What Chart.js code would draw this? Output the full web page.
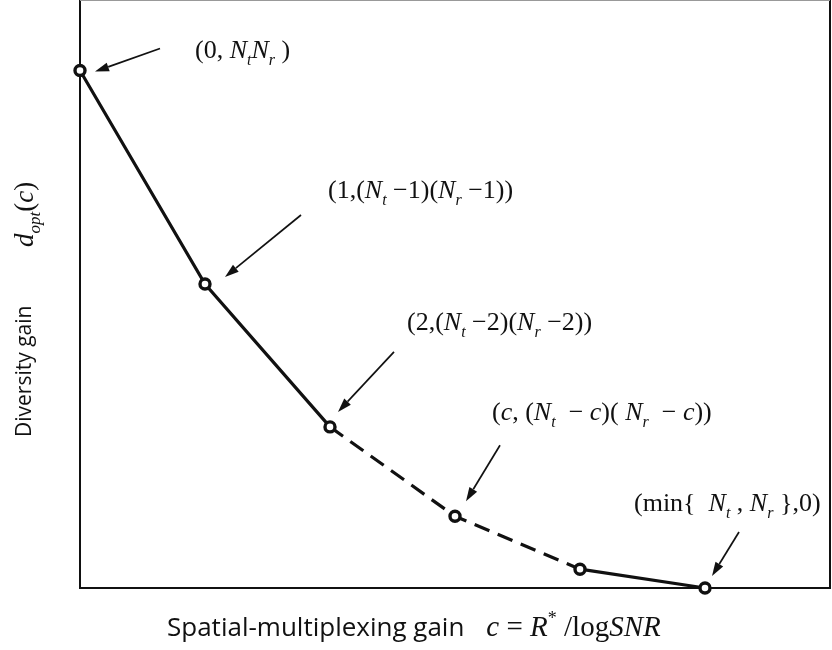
<!DOCTYPE html>
<html>
<head>
<meta charset="utf-8">
<script src="https://cdn.jsdelivr.net/npm/chart.js@4.4.1/dist/chart.umd.min.js"></script>
<style>
  html, body { margin: 0; padding: 0; background: #fff; }
  #wrap { width: 832px; height: 650px; }
</style>
</head>
<body>
<div id="wrap"><canvas id="c" width="832" height="650"></canvas></div>
<script>
// Spatial-multiplexing gain c at the integer corner points of the tradeoff curve
const multiplexingGain = [0, 1, 2, 3, 4, 5];
// Optimal diversity gain d_opt(c) at each corner point (schematic units)
const diversityGain = [8.8, 5.17, 2.74, 1.22, 0.32, 0];
// Stroke style of each segment joining consecutive points
const segmentStyle = ['solid', 'solid', 'dashed', 'dashed', 'solid'];
// Axis extents
const xRange = [0, 6];
const yRange = [0, 10];
// Point annotations: $..$ italic, _x / _{xy} subscript, ^x superscript
const pointNotes = [
  '(0, $N$_t$N$_r )',
  '(1,($N$_t −1)($N$_r −1))',
  '(2,($N$_t −2)($N$_r −2))',
  '($c$, ($N$_t  − $c$)( $N$_r  − $c$))',
  null,
  '(min{  $N$_t , $N$_r },0)'
];
const xTitle = ['Spatial-multiplexing gain', '$c$ = $R$^* /log$SNR$'];
const yTitle = ['Diversity gain', '$d$_{opt}($c$)'];

const SERIF = '"Liberation Serif", "DejaVu Serif", serif';
const SANS = '"Open Sans", "Liberation Sans", sans-serif';

// Split a lightly marked-up math string into typed runs
function parseRich(str) {
  const runs = [];
  let italic = false, buf = '';
  const flush = () => { if (buf) { runs.push({ t: buf, k: italic ? 'i' : 'r' }); buf = ''; } };
  for (let i = 0; i < str.length; i++) {
    const ch = str[i];
    if (ch === '$') { flush(); italic = !italic; }
    else if (ch === '_' || ch === '^') {
      flush();
      let t;
      if (str[i + 1] === '{') { const j = str.indexOf('}', i + 2); t = str.slice(i + 2, j); i = j; }
      else { t = str[i + 1]; i++; }
      runs.push({ t, k: ch === '_' ? 'sub' : 'sup' });
    } else buf += ch;
  }
  flush();
  return runs;
}

// Draw typed runs left to right from (x, baseline y); returns the advance
function drawRich(ctx, runs, x, y, size) {
  let cx = x;
  for (const r of runs) {
    let dy = 0;
    if (r.k === 'i') ctx.font = `italic ${size}px ${SERIF}`;
    else if (r.k === 'sub') { ctx.font = `italic ${Math.round(size * 0.62)}px ${SERIF}`; dy = size * 0.27; }
    else if (r.k === 'sup') { ctx.font = `${Math.round(size * 0.62)}px ${SERIF}`; dy = -size * 0.42; }
    else ctx.font = `${size}px ${SERIF}`;
    ctx.fillText(r.t, cx, y + dy);
    cx += ctx.measureText(r.t).width;
  }
  return cx - x;
}

function drawArrow(ctx, x0, y0, x1, y1) {
  const ang = Math.atan2(y1 - y0, x1 - x0);
  const len = 14, half = 4.5;
  const bx = x1 - len * Math.cos(ang), by = y1 - len * Math.sin(ang);
  ctx.beginPath();
  ctx.moveTo(x0, y0);
  ctx.lineTo(bx, by);
  ctx.lineWidth = 1.7;
  ctx.stroke();
  ctx.beginPath();
  ctx.moveTo(x1, y1);
  ctx.lineTo(bx + half * Math.sin(ang), by - half * Math.cos(ang));
  ctx.lineTo(bx - half * Math.sin(ang), by + half * Math.cos(ang));
  ctx.closePath();
  ctx.fill();
}

// Box around the plotting area
const framePlugin = {
  id: 'frame',
  beforeDatasetsDraw(chart) {
    const { ctx, chartArea: a } = chart;
    ctx.save();
    ctx.strokeStyle = '#111';
    ctx.lineWidth = 2;
    ctx.beginPath();
    ctx.moveTo(a.left, a.top);
    ctx.lineTo(a.left, a.bottom);
    ctx.lineTo(a.right, a.bottom);
    ctx.lineTo(a.right, a.top);
    ctx.stroke();
    ctx.strokeStyle = '#999';
    ctx.lineWidth = 1;
    ctx.beginPath();
    ctx.moveTo(a.left, a.top + 0.5);
    ctx.lineTo(a.right, a.top + 0.5);
    ctx.stroke();
    ctx.restore();
  }
};

// Labels and pointer arrows attached to the corner points
const noteLayout = [
  { tx: 115, ty: -13, a: [80, -22, 15, 1] },
  { tx: 123, ty: -86, a: [96, -69, 20, -7] },
  { tx: 77, ty: -97, a: [64, -75, 8, -15] },
  { tx: 37, ty: -96, a: [45, -71, 11, -15] },
  null,
  { tx: -71, ty: -77, a: [34, -56, 7, -12] }
];
const notesPlugin = {
  id: 'notes',
  afterDatasetsDraw(chart) {
    const { ctx } = chart;
    const pts = chart.getDatasetMeta(0).data;
    ctx.save();
    ctx.fillStyle = '#111';
    ctx.strokeStyle = '#111';
    ctx.textBaseline = 'alphabetic';
    ctx.textAlign = 'left';
    pointNotes.forEach((note, i) => {
      const lay = noteLayout[i];
      if (!note || !lay) return;
      const p = pts[i];
      drawRich(ctx, parseRich(note), p.x + lay.tx, p.y + lay.ty, 26);
      drawArrow(ctx, p.x + lay.a[0], p.y + lay.a[1], p.x + lay.a[2], p.y + lay.a[3]);
    });
    ctx.restore();
  }
};

// Axis titles mixing plain text and math
const titlesPlugin = {
  id: 'titles',
  afterDraw(chart) {
    const { ctx, chartArea: a } = chart;
    ctx.save();
    ctx.fillStyle = '#111';
    ctx.textBaseline = 'alphabetic';
    ctx.textAlign = 'left';
    // horizontal title
    const xb = a.bottom + 48;
    ctx.font = `26px ${SANS}`;
    const x0 = a.left + 87;
    ctx.fillText(xTitle[0], x0, xb);
    const w0 = ctx.measureText(xTitle[0]).width;
    drawRich(ctx, parseRich(xTitle[1]), x0 + w0 + 22, xb, 29);
    // vertical title, read bottom to top
    ctx.translate(31, 437);
    ctx.rotate(-Math.PI / 2);
    ctx.font = `21px ${SANS}`;
    ctx.fillText(yTitle[0], 0, 0);
    drawRich(ctx, parseRich(yTitle[1]), 190, 2, 27);
    ctx.restore();
  }
};

const points = multiplexingGain.map((c, i) => ({ x: c, y: diversityGain[i] }));

new Chart(document.getElementById('c'), {
  type: 'line',
  data: {
    datasets: [{
      data: points,
      borderColor: '#111',
      borderWidth: 3.2,
      borderCapStyle: 'butt',
      tension: 0,
      clip: false,
      pointRadius: 5,
      pointBorderWidth: 3.4,
      pointBorderColor: '#111',
      pointBackgroundColor: '#fff',
      segment: {
        borderDash: ctx => segmentStyle[ctx.p0DataIndex] === 'dashed' ? [16, 9] : undefined
      }
    }]
  },
  options: {
    responsive: false,
    animation: false,
    events: [],
    layout: { autoPadding: false, padding: { left: 80, right: 2, top: 0, bottom: 62 } },
    plugins: { legend: { display: false }, tooltip: { enabled: false } },
    scales: {
      x: { type: 'linear', display: false, min: xRange[0], max: xRange[1] },
      y: { type: 'linear', display: false, min: yRange[0], max: yRange[1] }
    }
  },
  plugins: [framePlugin, notesPlugin, titlesPlugin]
});
</script>
</body>
</html>
